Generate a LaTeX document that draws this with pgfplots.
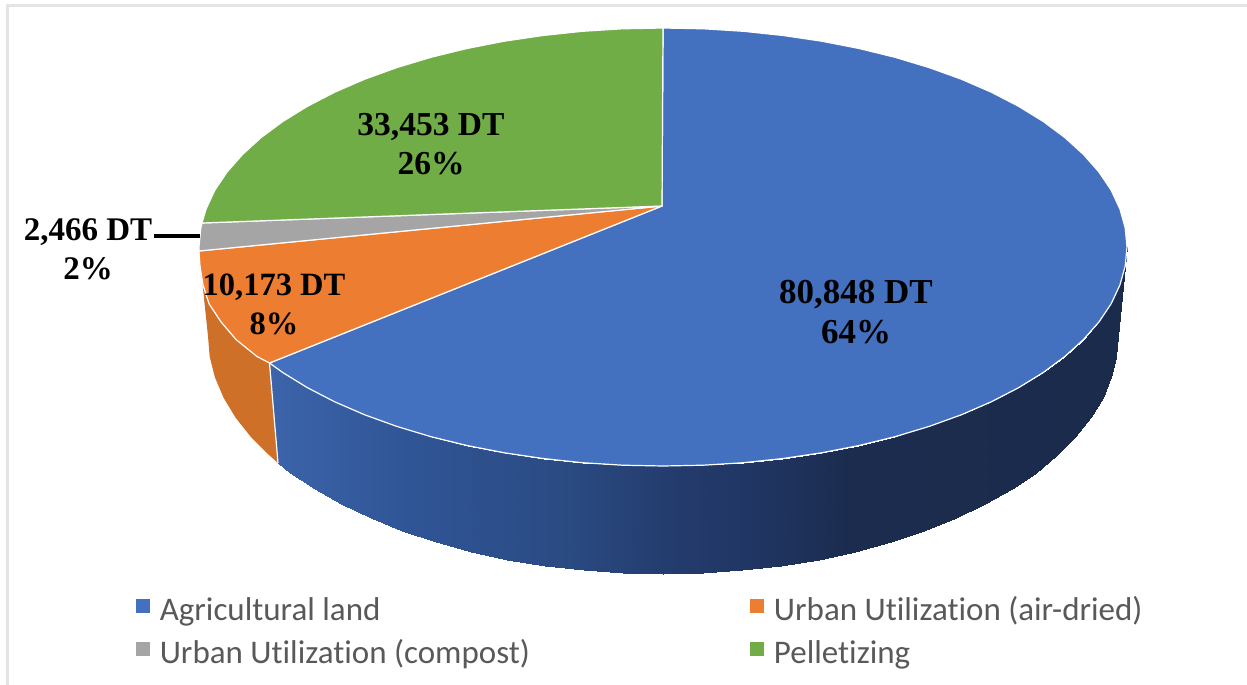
\documentclass[border=0pt]{standalone}
\usepackage{fontspec}
\setmainfont{Liberation Serif}
\newfontfamily\carlito[Ligatures=NoCommon]{Carlito}
\usepackage{pgfplots}
\usepgfplotslibrary{patchplots}
\pgfplotsset{compat=1.18}
\definecolor{cblue}{HTML}{4371BF}
\definecolor{corange}{HTML}{ED7D31}
\definecolor{cgray}{HTML}{A5A5A5}
\definecolor{cgreen}{HTML}{70AD47}
\definecolor{cside}{HTML}{CF7029}
\definecolor{cframe}{HTML}{E4E4E4}
\pgfplotsset{colormap={blueside}{[10pt]
  rgb255(0pt)=(60,100,170) rgb255(140pt)=(48,85,150) rgb255(300pt)=(42,74,130)
  rgb255(400pt)=(36,60,110) rgb255(500pt)=(31,52,96) rgb255(580pt)=(27,44,78)
  rgb255(860pt)=(26,43,76)}}
\begin{document}
\begin{tikzpicture}
\begin{axis}[
  scale only axis, width=1247pt, height=685pt,
  xmin=0, xmax=1247, ymin=0, ymax=685, y dir=reverse, hide axis,
  colormap name=blueside, point meta min=270, point meta max=1130,
  slice/.style={fill=#1, draw=white, line width=1.2pt, line join=round, forget plot},
  legend image code/.code={\path[#1] (0pt,-0.5pt) rectangle (14pt,13.5pt);},
  legend columns=2,
  legend cell align=left,
  legend style={at={(axis cs:135.6,596)}, anchor=north west, draw=none, fill=none, inner sep=0pt,
    font={\carlito\fontsize{33}{33}\selectfont}, text=black!65,
    nodes={inner sep=0pt, text height=24pt, text depth=8pt},
    /tikz/row sep=11pt,
    /tikz/column 1/.style={column sep=10pt},
    /tikz/column 2/.style={column sep=220pt},
    /tikz/column 3/.style={column sep=10pt}},
]
% page extent and frame
\addplot[draw=none, fill=white, forget plot] coordinates {(0,0)(1247,0)(1247,685)(0,685)} -- cycle;
\addplot[cframe, line width=2.2pt, forget plot] coordinates {(7.5,685)(7.5,5.5)(1247,5.5)};
% side of the blue slice
\addplot[surf, shader=interp, mesh/cols=31, point meta=x, forget plot] table {
x y
1127 247
1125.2 266.1
1119.9 285
1111.2 303.7
1099 321.9
1083.5 339.5
1064.8 356.5
1043.1 372.6
1018.4 387.8
991.1 401.9
961.3 414.8
929.2 426.4
895 436.7
859.1 445.5
821.7 452.8
783.1 458.5
743.6 462.7
703.5 465.2
663 466
622.5 465.2
582.4 462.7
542.9 458.5
504.3 452.8
466.9 445.5
431 436.7
396.8 426.4
364.7 414.8
334.9 401.9
307.6 387.8
282.9 372.6
269.5 363
1118 336
1116.3 356.8
1111.1 377.3
1102.5 397.6
1090.6 417.4
1075.4 436.6
1057 455
1035.7 472.5
1011.5 489
984.7 504.3
955.5 518.3
924 531
890.5 542.1
855.3 551.7
818.6 559.6
780.8 565.9
742 570.4
702.7 573.1
663 574
623.3 573.1
584 570.4
545.2 565.9
507.4 559.6
470.7 551.7
435.5 542.1
402 531
370.5 518.3
341.3 504.3
314.5 489
290.3 472.5
278 463
};
% side of the orange slice
\addplot[fill=cside, draw=none, forget plot] coordinates {
(269.5,363)(257,356.5)(236,339.5)(221,321.9)(209,303.7)(203,285)(200,266.1)(199,251)
(208,336)(209.7,356.8)(214.9,377.3)(223.5,397.6)(235.4,417.4)(250.6,436.6)(269,455)(278,463)} -- cycle;
\addplot[white, line width=1.2pt, forget plot] coordinates {(269.5,363)(278,463)};
% top faces
\addplot[slice=cblue] coordinates {
(662,206)(663,28)(703.5,28.8)(743.6,31.3)(783.1,35.5)(821.7,41.2)(859.1,48.5)(895,57.3)(929.2,67.6)
(961.3,79.2)(991.1,92.1)(1018.4,106.2)(1043.1,121.4)(1064.8,137.5)(1083.5,154.5)(1099,172.1)
(1111.2,190.3)(1119.9,209)(1125.2,227.9)(1127,247)(1125.2,266.1)(1119.9,285)(1111.2,303.7)
(1099,321.9)(1083.5,339.5)(1064.8,356.5)(1043.1,372.6)(1018.4,387.8)(991.1,401.9)(961.3,414.8)
(929.2,426.4)(895,436.7)(859.1,445.5)(821.7,452.8)(783.1,458.5)(743.6,462.7)(703.5,465.2)(663,466)
(622.5,465.2)(582.4,462.7)(542.9,458.5)(504.3,452.8)(466.9,445.5)(431,436.7)(396.8,426.4)
(364.7,414.8)(334.9,401.9)(307.6,387.8)(282.9,372.6)(269.5,363)} -- cycle;
\addplot[slice=corange] coordinates {
(662,206)(269.5,363)(257,356.5)(236,339.5)(221,321.9)(209,303.7)(203,285)(200,266.1)(199,251)} -- cycle;
\addplot[slice=cgray] coordinates {
(662,206)(199,251)(199,247)(200.8,227.9)(202,223)} -- cycle;
\addplot[slice=cgreen] coordinates {
(662,206)(202,223)(206.1,209)(214.8,190.3)(227,172.1)(242.5,154.5)(261.2,137.5)(282.9,121.4)
(307.6,106.2)(334.9,92.1)(364.7,79.2)(396.8,67.6)(431,57.3)(466.9,48.5)(504.3,41.2)(542.9,35.5)
(582.4,31.3)(622.5,28.8)(663,28)} -- cycle;
% leader line
\addplot[black, line width=3.6pt, forget plot] coordinates {(154,236)(200,236)};
% labels
\begin{scope}[every node/.style={align=center, text=black, inner sep=0pt}]
\node[font={\bfseries\fontsize{35}{40}\selectfont}] at (axis cs:856,312) {80,848 DT\\64\%};
\node[font={\bfseries\fontsize{33.5}{39}\selectfont}] at (axis cs:431,144) {33,453 DT\\26\%};
\node[font={\bfseries\fontsize{32.5}{39}\selectfont}] at (axis cs:274,304) {10,173 DT\\8\%};
\node[font={\bfseries\fontsize{33}{39}\selectfont}] at (axis cs:88,249) {2,466 DT\\2\%};
\end{scope}
% legend
\addlegendimage{fill=cblue, draw=none}
\addlegendentry{Agricultural land}
\addlegendimage{fill=corange, draw=none}
\addlegendentry{Urban Utilization (air-dried)}
\addlegendimage{fill=cgray, draw=none}
\addlegendentry{Urban Utilization (compost)}
\addlegendimage{fill=cgreen, draw=none}
\addlegendentry{Pelletizing}
\end{axis}
\end{tikzpicture}
\end{document}
